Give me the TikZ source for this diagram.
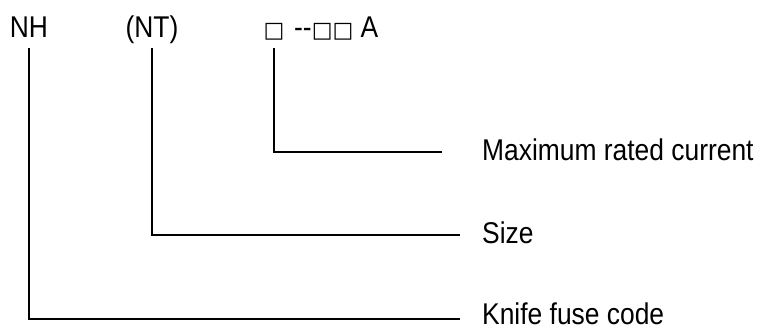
\documentclass[tikz,border=0pt]{standalone}
\usepackage{fontspec}
\setmainfont{Liberation Sans}[FakeStretch=0.88]
\newfontfamily\symfont{DejaVu Sans}
\newcommand{\boxsym}{{\symfont\fontsize{22}{22}\selectfont □}}
\begin{document}
\begin{tikzpicture}[x=1pt,y=-1pt,
  code/.style={inner sep=0pt,anchor=base,font=\fontsize{30}{30}\selectfont},
  lbl/.style={inner sep=0pt,text depth=0pt,anchor=base west,font=\fontsize{30}{30}\selectfont},
  leader/.style={line width=1.9pt}]
  \useasboundingbox (0,0) rectangle (763,329);

  % type designation
  \node[code] (nh) at (29,38) {NH};
  \node[code] (nt) at (152,38) {(NT)};
  \node[code] (sq) at (274,38) {\boxsym};
  \node[code,anchor=base west] (rest) at (294,38) {-{}-\boxsym\boxsym\ A};

  % explanations
  \node[lbl] (imax) at (482,160) {Maximum rated current};
  \node[lbl] (size) at (482,243) {Size};
  \node[lbl] (code) at (482,324) {Knife fuse code};

  % leaders
  \draw[leader] ([yshift=-10pt]sq.base) |- ([xshift=-40pt,yshift=8pt]imax.base west);
  \draw[leader] ([yshift=-10pt]nt.base) |- ([xshift=-22pt,yshift=8pt]size.base west);
  \draw[leader] ([yshift=-10pt]nh.base) |- ([xshift=-22pt,yshift=5pt]code.base west);
\end{tikzpicture}
\end{document}
